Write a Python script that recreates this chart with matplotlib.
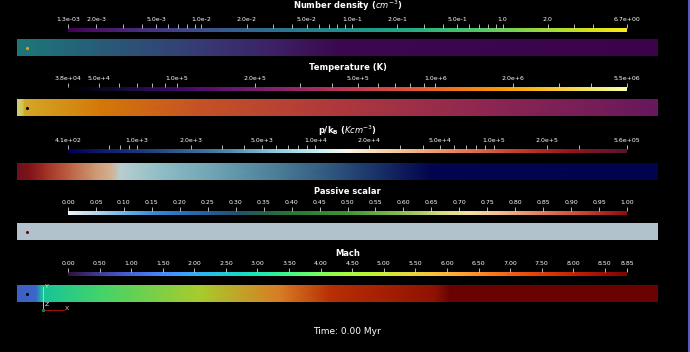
import numpy as np
import matplotlib
matplotlib.use("Agg")
import matplotlib.pyplot as plt
from matplotlib import colors
from matplotlib.cm import ScalarMappable
from matplotlib.ticker import NullFormatter

W, H = 690, 352

# --- colour bar ranges, ticks and labels ---
dens_range = [1.3e-3, 6.7]
dens_ticks = [1.3e-3, 2e-3, 5e-3, 1e-2, 2e-2, 5e-2, 1e-1, 2e-1, 5e-1, 1.0, 2.0, 6.7]
dens_labels = ['1.3e-03', '2.0e-3', '5.0e-3', '1.0e-2', '2.0e-2', '5.0e-2',
               '1.0e-1', '2.0e-1', '5.0e-1', '1.0', '2.0', '6.7e+00']
dens_minor = [3e-3, 4e-3, 6e-3, 7e-3, 8e-3, 9e-3, 3e-2, 4e-2, 6e-2, 7e-2, 8e-2, 9e-2,
              3e-1, 4e-1, 6e-1, 7e-1, 8e-1, 9e-1, 3.0, 4.0]

temp_range = [3.8e4, 5.5e6]
temp_ticks = [3.8e4, 5e4, 1e5, 2e5, 5e5, 1e6, 2e6, 5.5e6]
temp_labels = ['3.8e+04', '5.0e+4', '1.0e+5', '2.0e+5', '5.0e+5', '1.0e+6', '2.0e+6', '5.5e+06']
temp_minor = [6e4, 7e4, 8e4, 9e4, 3e5, 4e5, 6e5, 7e5, 8e5, 9e5, 3e6, 4e6]

pres_range = [4.1e2, 5.6e5]
pres_ticks = [4.1e2, 1e3, 2e3, 5e3, 1e4, 2e4, 5e4, 1e5, 2e5, 5.6e5]
pres_labels = ['4.1e+02', '1.0e+3', '2.0e+3', '5.0e+3', '1.0e+4', '2.0e+4',
               '5.0e+4', '1.0e+5', '2.0e+5', '5.6e+05']
pres_minor = [7e2, 8e2, 9e2, 3e3, 4e3, 6e3, 7e3, 8e3, 9e3, 3e4, 4e4, 6e4, 7e4, 8e4, 9e4, 3e5]

scal_range = [0.0, 1.0]
scal_ticks = [0.00, 0.05, 0.10, 0.15, 0.20, 0.25, 0.30, 0.35, 0.40, 0.45, 0.50,
              0.55, 0.60, 0.65, 0.70, 0.75, 0.80, 0.85, 0.90, 0.95, 1.00]
scal_labels = ['%.2f' % t for t in scal_ticks]

mach_range = [0.0, 8.85]
mach_ticks = [0.0, 0.5, 1.0, 1.5, 2.0, 2.5, 3.0, 3.5, 4.0, 4.5, 5.0,
              5.5, 6.0, 6.5, 7.0, 7.5, 8.0, 8.5, 8.85]
mach_labels = ['%.2f' % t for t in mach_ticks]

# --- profiles along the tube (position 0..1, value) ---
dens_pos = [0.0, 0.05, 0.13, 0.28, 0.41, 0.50, 1.0]
dens_vals = [0.08, 0.055, 0.027, 0.008, 0.003, 0.0016, 0.0014]

temp_pos = [0.0, 0.008, 0.012, 0.13, 0.28, 0.50, 0.75, 1.0]
temp_vals = [4.5e6, 4.2e6, 2.8e6, 1.6e6, 9.5e5, 5.8e5, 3.4e5, 2.0e5]

pres_pos = [0.0, 0.02, 0.044, 0.083, 0.122, 0.148, 0.161, 0.223, 0.317, 0.41, 0.512, 0.598, 0.644, 1.0]
pres_vals = [3.4e5, 2.6e5, 1.5e5, 7.3e4, 3.5e4, 2.4e4, 1.2e4, 8.1e3, 5.3e3, 3.5e3, 1.7e3, 730, 470, 440]

scal_pos = [0.0, 1.0]
scal_vals = [0.025, 0.025]

mach_pos = [0.0, 0.03, 0.039, 0.13, 0.285, 0.41, 0.488, 0.6, 0.652, 0.675, 1.0]
mach_vals = [1.2, 1.3, 3.0, 3.6, 4.9, 6.4, 7.6, 8.1, 8.3, 8.85, 8.85]

probe_pos = 0.0156

# --- colour maps ---
cool_warm = colors.LinearSegmentedColormap.from_list('cool_warm_ext', [
    (0.0, (0.0, 0.0, 0.349)), (0.15, (0.13, 0.26, 0.50)), (0.28, (0.29, 0.52, 0.65)),
    (0.38, (0.57, 0.82, 0.88)), (0.46, (0.82, 0.95, 0.97)), (0.5, (0.99, 0.96, 0.90)),
    (0.6, (0.95, 0.75, 0.56)), (0.7, (0.90, 0.50, 0.35)), (0.8, (0.78, 0.25, 0.18)),
    (0.9, (0.58, 0.08, 0.10)), (1.0, (0.349, 0.071, 0.212))])

scal_cmap = colors.LinearSegmentedColormap.from_list('scalar', [
    (0.0, (0.92, 0.95, 0.97)), (0.05, (0.70, 0.83, 0.92)), (0.1, (0.42, 0.70, 0.90)),
    (0.15, (0.22, 0.55, 0.83)), (0.2, (0.17, 0.45, 0.75)), (0.25, (0.14, 0.37, 0.60)),
    (0.3, (0.12, 0.32, 0.45)), (0.35, (0.15, 0.38, 0.30)), (0.4, (0.15, 0.47, 0.20)),
    (0.5, (0.25, 0.58, 0.20)), (0.6, (0.55, 0.75, 0.33)), (0.67, (0.85, 0.86, 0.50)),
    (0.72, (0.96, 0.88, 0.62)), (0.77, (0.95, 0.74, 0.58)), (0.85, (0.88, 0.48, 0.38)),
    (0.92, (0.78, 0.28, 0.20)), (1.0, (0.55, 0.05, 0.05))])


def shaded(cmap, k=0.85):
    c = cmap(np.linspace(0, 1, 256))
    c[:, :3] *= k
    return colors.ListedColormap(c)


panels = [
    (r'Number density ($cm^{-3}$)', plt.get_cmap('viridis'), colors.LogNorm(*dens_range),
     dens_ticks, dens_labels, dens_minor, dens_pos, dens_vals, '#e8a020', 6, 28, 39),
    ('Temperature (K)', plt.get_cmap('inferno'), colors.LogNorm(*temp_range),
     temp_ticks, temp_labels, temp_minor, temp_pos, temp_vals, 'black', 68, 87, 99),
    (r'p/k$_\mathbf{B}$ ($Kcm^{-3}$)', cool_warm, colors.LogNorm(*pres_range),
     pres_ticks, pres_labels, pres_minor, pres_pos, pres_vals, None, 131, 149, 163),
    ('Passive scalar', scal_cmap, colors.Normalize(*scal_range),
     scal_ticks, scal_labels, [], scal_pos, scal_vals, '#6a0a14', 191, 211, 223),
    ('Mach', plt.get_cmap('turbo'), colors.Normalize(*mach_range),
     mach_ticks, mach_labels, [], mach_pos, mach_vals, 'black', 253, 272, 285),
]


def box(x0, y0, w, h):
    return [x0 / W, 1 - (y0 + h) / H, w / W, h / H]


fig = plt.figure(figsize=(W / 100, H / 100), dpi=100, facecolor='black')
ov = fig.add_axes([0, 0, 1, 1], zorder=5)
ov.set_xlim(0, W)
ov.set_ylim(H, 0)
ov.axis('off')
ov.patch.set_alpha(0)

for (title, cmap, norm, ticks, labels, minor, pos, vals, dot, ty, by, sy) in panels:
    # colour bar
    cax = fig.add_axes(box(68, by, 559, 3.5))
    cb = fig.colorbar(ScalarMappable(norm=norm, cmap=cmap), cax=cax, orientation='horizontal')
    cb.outline.set_visible(False)
    cb.set_ticks(ticks, labels=labels)
    if minor:
        cb.ax.xaxis.set_ticks(minor, minor=True)
    else:
        cb.ax.xaxis.set_ticks([], minor=True)
    cax.xaxis.set_minor_formatter(NullFormatter())
    cax.xaxis.set_ticks_position('top')
    cax.tick_params(axis='x', which='both', colors='white', length=3, width=0.5,
                    labelsize=4.5, pad=1.2, top=True, bottom=False,
                    labeltop=True, labelbottom=False, direction='out')
    ov.text(347.5, ty, title, color='white', fontsize=6, fontweight='bold',
            ha='center', va='center')

    # rendered tube
    sax = fig.add_axes(box(17, sy, 641, 17))
    p = np.array([pos, pos])
    yy = np.array([[0.0] * len(pos), [1.0] * len(pos)])
    cc = np.array([vals, vals])
    sax.pcolormesh(p, yy, cc, cmap=shaded(cmap), norm=norm, shading='gouraud')
    if dot is not None:
        sax.scatter([probe_pos], [0.5], s=5, color=dot, zorder=3, linewidths=0)
    sax.set_xlim(0, 1)
    sax.set_ylim(0, 1)
    sax.axis('off')

# orientation triad
ov.plot([43, 43], [310, 287], color='#e0d820', lw=0.7)
ov.plot([43, 64], [310, 310], color='#a01010', lw=0.7)
ov.scatter([43], [310], s=6, color='#1a8a2a', zorder=6, linewidths=0)
ov.text(45, 287, 'Y', color='#f0f0a0', fontsize=4.5, ha='left', va='center')
ov.text(45, 305, 'Z', color='white', fontsize=4.5, ha='left', va='center')
ov.text(65, 309, 'X', color='#f0c0c0', fontsize=4.5, ha='left', va='center')

# view border
ov.plot([688.5, 688.5], [0, H], color='#6c6ce8', lw=1.2)

ov.text(347, 332, 'Time: 0.00 Myr', color='white', fontsize=6.5, ha='center', va='center')

fig.savefig('out.png', dpi=100, facecolor='black')
